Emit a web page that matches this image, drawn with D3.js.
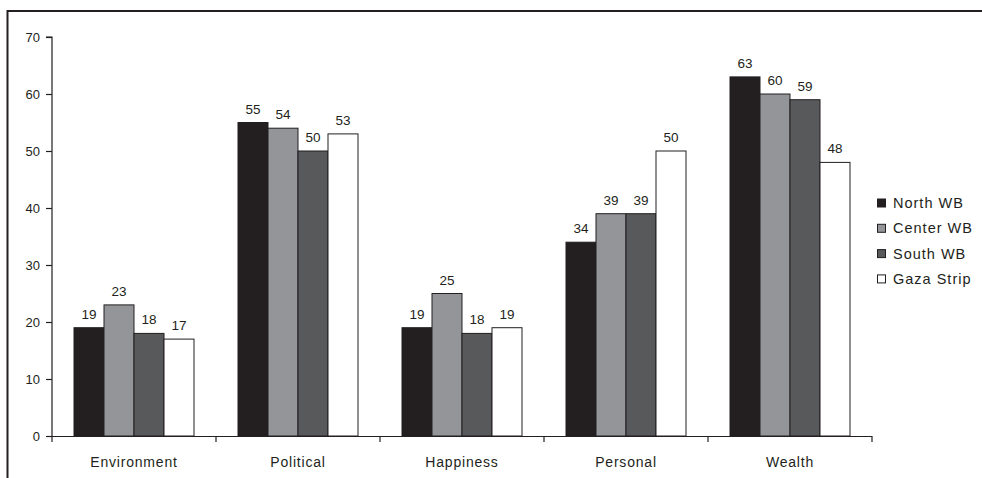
<!DOCTYPE html>
<html>
<head>
<meta charset="utf-8">
<script src="https://cdn.jsdelivr.net/npm/d3@7"></script>
<style>
  html, body { margin: 0; padding: 0; background: #fff; }
  svg { display: block; font-family: "Liberation Sans", Arial, Helvetica, sans-serif; }
</style>
</head>
<body>
<svg id="chart" width="982" height="478"></svg>
<script>
// Survey topics and the share (%) reported for each region
const categories = ["Environment", "Political", "Happiness", "Personal", "Wealth"];
const seriesNames = ["North WB", "Center WB", "South WB", "Gaza Strip"];
const northWB  = [19, 55, 19, 34, 63];
const centerWB = [23, 54, 25, 39, 60];
const southWB  = [18, 50, 18, 39, 59];
const gazaStrip = [17, 53, 19, 50, 48];
const yTicks = [0, 10, 20, 30, 40, 50, 60, 70];

const seriesValues = [northWB, centerWB, southWB, gazaStrip];
const fills = ["#231f20", "#939598", "#58595b", "#ffffff"];
const ink = "#231f20";

const svg = d3.select("#chart");

// frame lines (top and left)
svg.append("line").attr("x1", 7).attr("x2", 982).attr("y1", 11).attr("y2", 11)
  .attr("stroke", ink).attr("stroke-width", 2);
svg.append("line").attr("x1", 7.5).attr("x2", 7.5).attr("y1", 10).attr("y2", 478)
  .attr("stroke", ink).attr("stroke-width", 2);

const plot = { left: 52, right: 872, top: 37, bottom: 436 };

const x = d3.scaleBand().domain(categories).range([plot.left, plot.right]).paddingInner(0).paddingOuter(0);
const xInner = d3.scaleBand().domain(seriesNames).range([0, x.bandwidth()]).paddingOuter(22 / 30).paddingInner(0);
const y = d3.scaleLinear().domain([0, 70]).range([plot.bottom, plot.top]);

// bars
const rows = [];
categories.forEach((c, ci) => {
  seriesNames.forEach((s, si) => rows.push({ cat: c, series: s, si, value: seriesValues[si][ci] }));
});

const g = svg.append("g");
g.selectAll("rect.bar").data(rows).join("rect")
  .attr("class", "bar")
  .attr("x", d => x(d.cat) + xInner(d.series))
  .attr("y", d => y(d.value))
  .attr("width", xInner.bandwidth())
  .attr("height", d => y(0) - y(d.value))
  .attr("fill", d => fills[d.si])
  .attr("stroke", ink)
  .attr("stroke-width", 1);

// value labels
g.selectAll("text.val").data(rows).join("text")
  .attr("class", "val")
  .attr("x", d => x(d.cat) + xInner(d.series) + xInner.bandwidth() / 2)
  .attr("y", d => y(d.value) - 9)
  .attr("text-anchor", "middle")
  .attr("font-size", 13.5)
  .attr("fill", ink)
  .text(d => d.value);

// y axis
const yAxis = d3.axisLeft(y).tickValues(yTicks).tickSize(6).tickPadding(6);
const ya = svg.append("g").attr("transform", `translate(${plot.left},0)`).call(yAxis);
ya.select(".domain").attr("stroke", ink).attr("stroke-width", 1.2).attr("d", `M-6,${y(70)}H0V${y(0)}`);
ya.selectAll(".tick line").attr("stroke", ink).attr("stroke-width", 1.2);
ya.selectAll(".tick text").attr("font-size", 13).attr("fill", ink).attr("font-family", "'Liberation Sans', Arial, sans-serif");

// x axis with ticks at category boundaries
const xa = svg.append("g").attr("transform", `translate(0,${plot.bottom})`);
xa.append("line").attr("x1", plot.left).attr("x2", plot.right).attr("y1", 0.5).attr("y2", 0.5)
  .attr("stroke", ink).attr("stroke-width", 1.2);
const bounds = categories.map(c => x(c)).concat([plot.right]);
xa.selectAll("line.tk").data(bounds).join("line").attr("class", "tk")
  .attr("x1", d => d).attr("x2", d => d).attr("y1", 0).attr("y2", 6)
  .attr("stroke", ink).attr("stroke-width", 1.2);
xa.selectAll("text.cat").data(categories).join("text").attr("class", "cat")
  .attr("x", d => x(d) + x.bandwidth() / 2)
  .attr("y", 31)
  .attr("text-anchor", "middle")
  .attr("font-size", 14)
  .attr("letter-spacing", 0.8)
  .attr("fill", ink)
  .text(d => d);

// legend
const legend = svg.append("g").attr("transform", "translate(877,203)");
const li = legend.selectAll("g").data(seriesNames).join("g")
  .attr("transform", (d, i) => `translate(0,${i * 25.3})`);
li.append("rect").attr("x", 0.5).attr("y", -4).attr("width", 8).attr("height", 8)
  .attr("fill", (d, i) => fills[i]).attr("stroke", ink).attr("stroke-width", 1);
li.append("text").attr("x", 16).attr("y", 5).attr("font-size", 14.5)
  .attr("letter-spacing", 1).attr("fill", ink).text(d => d);
</script>
</body>
</html>
